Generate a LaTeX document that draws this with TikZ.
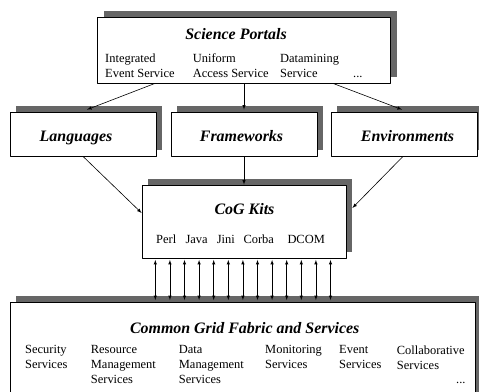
\documentclass[tikz,border=0pt]{standalone}
\usepackage{fontspec}
\setmainfont{Liberation Serif}
\usetikzlibrary{shadows}
\newcommand{\boxtitlefont}{\fontsize{16}{19}\selectfont\bfseries\itshape}
\newcommand{\boxitemfont}{\fontsize{12.5}{15}\selectfont}

\begin{document}
\begin{tikzpicture}[>=latex,line join=bevel,
    box/.style={draw,rectangle,fill=white,line width=0.8bp,inner sep=0pt,
        drop shadow={shadow xshift=6bp,shadow yshift=6bp,fill=black!60,opacity=1}},
    title/.style={font=\boxtitlefont,anchor=base},
    item/.style={font=\boxitemfont,align=left,anchor=north west,inner sep=0pt},
    link/.style={->,line width=0.6bp},
    ]
    \useasboundingbox (0bp,0bp) rectangle (479bp,392bp);
    %%
    \node (portals) at (244bp,342bp) [box,minimum width=293bp,minimum height=66bp] {};
    \node (languages) at (83bp,258bp) [box,minimum width=146bp,minimum height=44bp] {};
    \node (frameworks) at (244bp,258bp) [box,minimum width=146bp,minimum height=44bp] {};
    \node (environments) at (404bp,258bp) [box,minimum width=146bp,minimum height=44bp] {};
    \node (cog) at (244bp,170.5bp) [box,minimum width=204bp,minimum height=73bp] {};
    \node (grid) at (242.5bp,40bp) [box,minimum width=465bp,minimum height=100bp] {};
    %
    \node (portals-title) at (236bp,352.5bp) [title] {Science Portals};
    \node (languages-title) at (76bp,250.5bp) [title] {Languages};
    \node (frameworks-title) at (241.5bp,250.5bp) [title] {Frameworks};
    \node (environments-title) at (407.5bp,250.5bp) [title] {Environments};
    \node (cog-title) at (244.5bp,177bp) [title] {CoG Kits};
    \node (grid-title) at (244.7bp,58.7bp) [title] {Common Grid Fabric and Services};
    %
    \node (ies) at (105bp,338bp) [item] {Integrated\\Event Service};
    \node (uas) at (192.7bp,338bp) [item] {Uniform\\Access Service};
    \node (dms) at (280bp,338bp) [item] {Datamining\\Service};
    \node (portals-more) at (353bp,314bp) [item,anchor=base west] {...};
    \foreach \kit/\x in {Perl/156,Java/185.3,Jini/216.7,Corba/243.3,DCOM/287.3}
        \node (kit-\kit) at (\x bp,148bp) [item,anchor=base west] {\kit};
    \node (security) at (25bp,46.5bp) [item] {Security\\Services};
    \node (resource) at (90.7bp,46.5bp) [item] {Resource\\Management\\Services};
    \node (data) at (178.7bp,46.5bp) [item] {Data\\Management\\Services};
    \node (monitoring) at (265bp,46.5bp) [item] {Monitoring\\Services};
    \node (event) at (339bp,46.5bp) [item] {Event\\Services};
    \node (collab) at (396.7bp,46.5bp) [item] {Collaborative\\Services};
    \node (grid-more) at (456bp,8.7bp) [item,anchor=base west] {...};
    %
    \draw [link] ([xshift=-89bp]portals.south) -- ([xshift=4bp,yshift=2bp]languages.north);
    \draw [link] (portals.south) -- ([yshift=2bp]frameworks.north);
    \draw [link] ([xshift=89bp]portals.south) -- ([xshift=-2bp,yshift=2bp]environments.north);
    \draw [link] (languages.south) -- ([yshift=8.5bp]cog.west);
    \draw [link] (frameworks.south) -- (cog.north);
    \draw [link] ([xshift=-1bp]environments.south) -- ([xshift=6bp,yshift=13.5bp]cog.east);
    \foreach \i in {0,...,12}
        \draw [link,<->,shorten <=1.5bp,shorten >=1.5bp] ([xshift=13.7bp+\i*14.6bp]cog.south west) -- ([xshift=145.7bp+\i*14.6bp]grid.north west);
    %
\end{tikzpicture}
\end{document}
